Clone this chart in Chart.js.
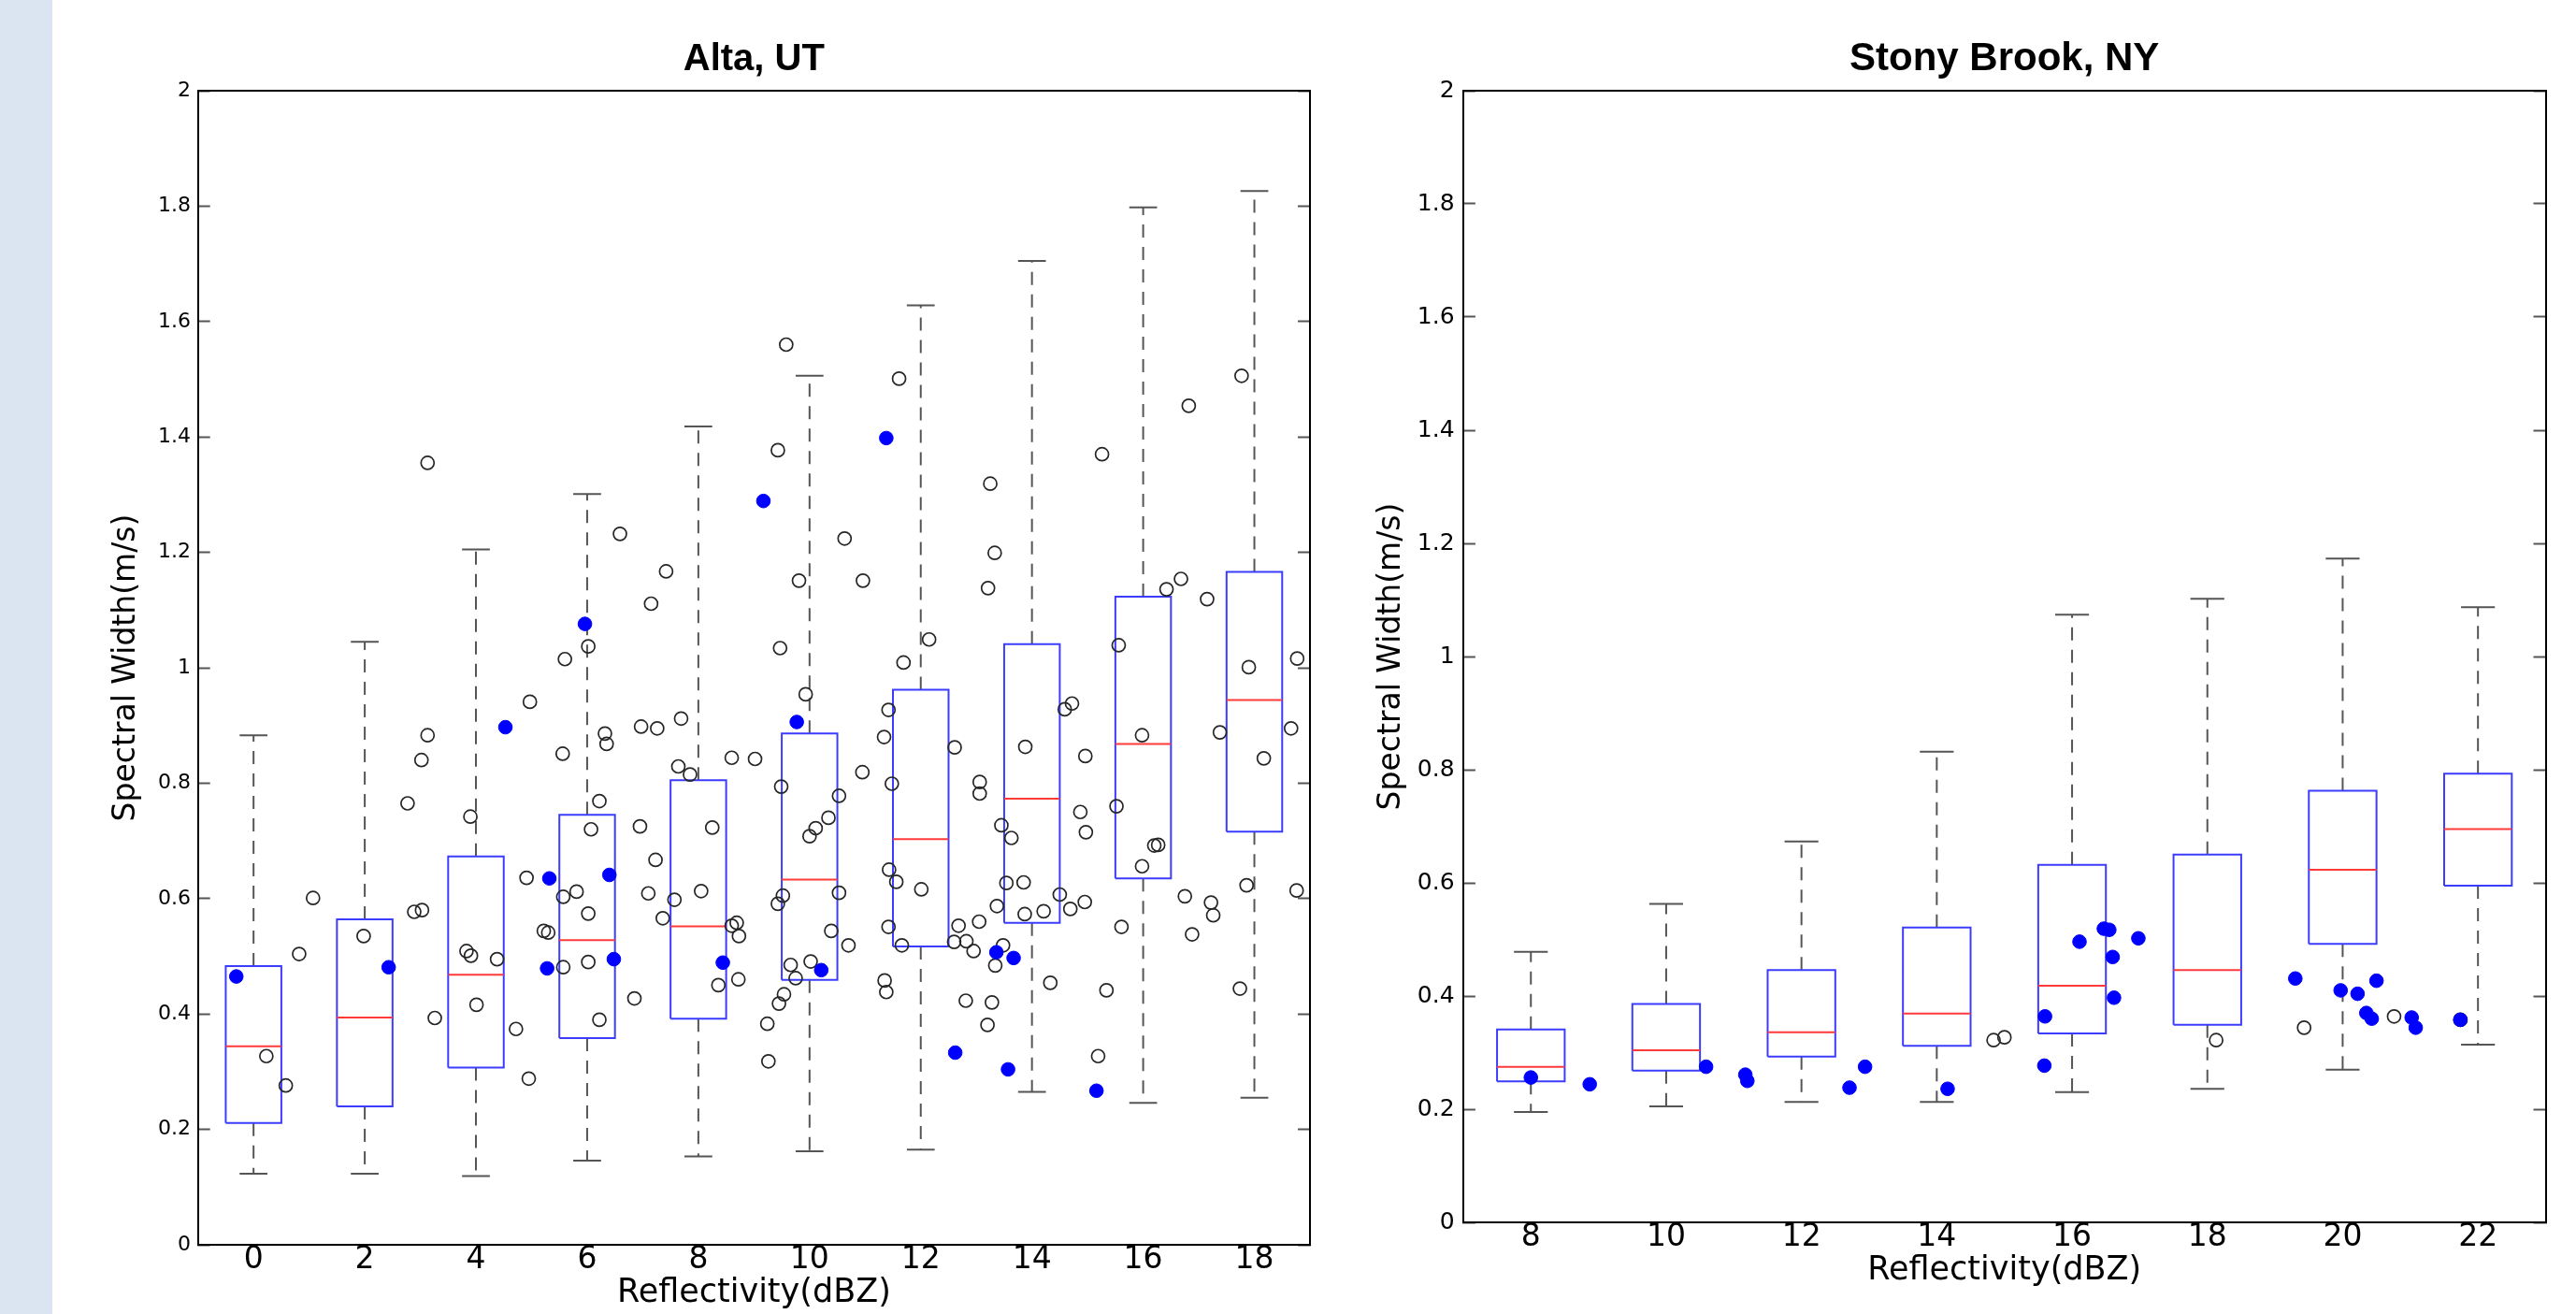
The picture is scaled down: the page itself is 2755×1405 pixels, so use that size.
<!DOCTYPE html>
<html><head><meta charset="utf-8">
<script src="https://cdn.jsdelivr.net/npm/chart.js@4/dist/chart.umd.min.js"></script>
<style>
html,body{margin:0;padding:0;background:#fff;width:2755px;height:1405px;overflow:hidden;position:relative}
#band{position:absolute;left:0;top:0;width:56px;height:1405px;background:#dbe5f1}
#alta{position:absolute;left:56px;top:0}
#stony{position:absolute;left:1450px;top:0}
</style></head><body>
<div id="band"></div>
<canvas id="alta" width="1394" height="1405"></canvas>
<canvas id="stony" width="1305" height="1405"></canvas>
<script>
// ---------- shared ----------
const yTicks = [0,0.2,0.4,0.6,0.8,1,1.2,1.4,1.6,1.8,2];
const yTickLabels = ['0','0.2','0.4','0.6','0.8','1','1.2','1.4','1.6','1.8','2'];

// ---------- Alta, UT ----------
const altaLevels = [0,2,4,6,8,10,12,14,16,18];
const altaTickLabels = ['0','2','4','6','8','10','12','14','16','18'];
const altaLow    = [0.123,0.123,0.119,0.146,0.153,0.162,0.165,0.265,0.246,0.255];
const altaQ1     = [0.211,0.240,0.307,0.358,0.392,0.459,0.517,0.558,0.635,0.716];
const altaMedian = [0.344,0.394,0.468,0.528,0.552,0.633,0.703,0.773,0.868,0.944];
const altaQ3     = [0.483,0.564,0.673,0.745,0.805,0.886,0.962,1.041,1.123,1.166];
const altaHigh   = [0.883,1.045,1.205,1.301,1.418,1.506,1.628,1.705,1.798,1.826];
const altaOpenX = [3.13,6.59,7.42,9.58,11.61,9.43,13.25,15.26,16.82,17.77,10.63,13.33,9.81,10.96,16.68,13.21,16.42,17.15,7.15,6.02,
 5.60,4.97,3.13,3.02,2.77,3.90,6.32,6.35,5.56,6.97,7.26,7.69,8.60,9.02,7.64,7.85,6.22,6.07,6.95,8.25,
 7.23,4.91,5.81,5.57,7.10,8.05,7.57,1.07,2.89,3.03,6.02,7.36,5.22,5.30,1.98,8.60,8.69,8.73,3.83,3.91,
 0.82,4.38,4.01,3.26,4.72,4.95,0.23,0.58,5.57,6.02,6.85,6.22,8.36,8.72,9.47,12.15,11.69,9.93,11.42,11.34,
 12.61,10.95,9.49,11.48,10.53,10.34,10.11,10.00,13.06,13.06,13.88,14.59,14.72,14.96,15.56,15.98,17.38,17.90,18.77,18.66,
 18.17,14.87,14.97,15.52,13.45,13.63,16.20,16.27,15.98,17.86,18.76,9.52,9.43,10.53,10.39,10.70,11.43,11.56,12.01,11.42,
 11.66,12.68,13.05,12.60,12.82,12.95,13.37,13.54,13.85,13.87,14.21,14.50,14.69,14.95,13.48,13.34,16.75,17.22,17.26,15.61,
 16.88,9.66,10.02,9.75,9.54,9.45,9.24,9.26,11.35,11.38,12.81,13.28,13.20,14.33,15.34,15.19,17.74];
const altaOpenY = [1.355,1.232,1.167,1.560,1.501,1.377,1.319,1.370,1.454,1.506,1.224,1.199,1.151,1.151,1.154,1.138,1.136,1.119,1.111,1.037,
 1.015,0.941,0.883,0.840,0.765,0.742,0.886,0.868,0.851,0.898,0.895,0.912,0.844,0.842,0.829,0.815,0.769,0.720,0.725,0.723,
 0.667,0.636,0.612,0.603,0.609,0.613,0.598,0.601,0.577,0.580,0.574,0.566,0.544,0.541,0.535,0.553,0.558,0.535,0.509,0.501,
 0.504,0.495,0.416,0.393,0.374,0.288,0.327,0.276,0.481,0.490,0.427,0.390,0.450,0.460,1.034,1.049,1.009,0.954,0.927,0.880,
 0.862,0.819,0.794,0.799,0.778,0.740,0.722,0.708,0.802,0.782,0.863,0.928,0.938,0.847,1.039,0.883,0.888,1.001,1.016,0.895,
 0.843,0.750,0.715,0.760,0.727,0.705,0.692,0.693,0.656,0.623,0.614,0.605,0.591,0.610,0.544,0.519,0.650,0.629,0.616,0.551,
 0.519,0.553,0.560,0.525,0.526,0.509,0.587,0.627,0.628,0.573,0.578,0.607,0.582,0.594,0.519,0.484,0.604,0.593,0.571,0.551,
 0.538,0.485,0.491,0.462,0.434,0.418,0.383,0.318,0.458,0.438,0.423,0.420,0.381,0.454,0.441,0.327,0.444];
const altaBlueX = [9.17,11.38,5.96,4.53,5.32,6.40,-0.31,2.43,5.28,6.48,8.44,9.77,10.21,13.36,13.67,12.62,13.57,15.16];
const altaBlueY = [1.289,1.398,1.076,0.897,0.635,0.641,0.465,0.481,0.479,0.495,0.489,0.906,0.476,0.507,0.497,0.333,0.304,0.267];

// ---------- Stony Brook, NY ----------
const stonyLevels = [8,10,12,14,16,18,20,22];
const stonyTickLabels = ['8','10','12','14','16','18','20','22'];
const stonyLow    = [0.195,0.205,0.213,0.213,0.230,0.236,0.270,0.314];
const stonyQ1     = [0.249,0.268,0.293,0.312,0.334,0.349,0.492,0.595];
const stonyMedian = [0.275,0.304,0.336,0.369,0.418,0.446,0.623,0.695];
const stonyQ3     = [0.341,0.386,0.446,0.521,0.632,0.650,0.763,0.793];
const stonyHigh   = [0.478,0.563,0.673,0.832,1.074,1.102,1.173,1.087];
const stonyOpenX = [14.84,15.00,18.13,19.43,20.76,21.74];
const stonyOpenY = [0.322,0.327,0.322,0.344,0.364,0.358];
const stonyBlueX = [8.00,8.87,10.59,11.17,11.20,12.71,12.94,14.16,15.60,15.59,16.11,16.47,16.55,16.60,16.62,16.98,19.30,19.97,20.22,20.50,20.35,20.43,21.02,21.08,21.74];
const stonyBlueY = [0.256,0.244,0.275,0.261,0.250,0.238,0.275,0.236,0.364,0.277,0.496,0.519,0.517,0.469,0.397,0.502,0.431,0.410,0.404,0.427,0.370,0.360,0.362,0.344,0.358];

Chart.defaults.color = '#000';
Chart.defaults.font.family = 'DejaVu Sans';

function zip(xs, ys) { return xs.map((x, i) => ({x: x, y: ys[i]})); }

function buildBoxes(levels, lo, q1, med, q3, hi, half) {
  const rect = [], medLine = [], whisk = [], caps = [];
  levels.forEach((x, i) => {
    rect.push({x: x - half, y: q1[i]}, {x: x + half, y: q1[i]}, {x: x + half, y: q3[i]},
              {x: x - half, y: q3[i]}, {x: x - half, y: q1[i]}, {x: x, y: null});
    medLine.push({x: x - half, y: med[i]}, {x: x + half, y: med[i]}, {x: x, y: null});
    whisk.push({x: x, y: q3[i]}, {x: x, y: hi[i]}, {x: x, y: null},
               {x: x, y: q1[i]}, {x: x, y: lo[i]}, {x: x, y: null});
    caps.push({x: x - half / 2, y: hi[i]}, {x: x + half / 2, y: hi[i]}, {x: x, y: null},
              {x: x - half / 2, y: lo[i]}, {x: x + half / 2, y: lo[i]}, {x: x, y: null});
  });
  return {rect, medLine, whisk, caps};
}

function makeChart(id, d, g) {
  const b = buildBoxes(d.levels, d.lo, d.q1, d.med, d.q3, d.hi, 0.5);
  const lineBase = {type: 'line', pointRadius: 0, pointHoverRadius: 0, spanGaps: false, tension: 0, fill: false, borderCapStyle: 'butt', borderJoinStyle: 'miter'};
  const yTickFn = s => { s.ticks = yTicks.map(v => ({value: v})); };
  const xTickFn = s => { s.ticks = d.levels.map(v => ({value: v})); };
  return new Chart(document.getElementById(id), {
    type: 'scatter',
    data: {datasets: [
      {type: 'scatter', data: zip(d.blueX, d.blueY), pointStyle: 'circle', pointRadius: 7.3, pointHoverRadius: 7.3,
       backgroundColor: '#0000ff', borderColor: '#0000ff', borderWidth: 1, order: 1},
      {type: 'scatter', data: zip(d.openX, d.openY), pointStyle: 'circle', pointRadius: 7, pointHoverRadius: 7,
       backgroundColor: 'rgba(0,0,0,0)', borderColor: '#262626', borderWidth: 1.7, order: 2},
      Object.assign({}, lineBase, {data: b.medLine, borderColor: '#ff3a3a', borderWidth: 2, order: 3}),
      Object.assign({}, lineBase, {data: b.rect, borderColor: '#3c3cff', borderWidth: 2, order: 4}),
      Object.assign({}, lineBase, {data: b.whisk, borderColor: '#555555', borderWidth: 2, borderDash: [14, 10], order: 5}),
      Object.assign({}, lineBase, {data: b.caps, borderColor: '#555555', borderWidth: 2, order: 5})
    ]},
    options: {
      responsive: false, animation: false, devicePixelRatio: 1, events: [],
      layout: {padding: {left: 0, right: g.padRight, top: 0, bottom: 0}},
      plugins: {
        legend: {display: false}, tooltip: {enabled: false},
        title: {display: true, text: d.title, fullSize: false, color: '#000',
                font: {family: 'Liberation Sans', size: g.titleSize, weight: 'bold', lineHeight: 1.2},
                padding: {top: g.titlePadTop, bottom: g.titlePadBottom}}
      },
      scales: {
        x: {type: 'linear', position: 'bottom', min: g.xMin, max: g.xMax,
            afterBuildTicks: xTickFn, afterFit: s => { s.height = g.xHeight; },
            grid: {display: false, drawTicks: false},
            border: {display: true, color: '#000', width: 2},
            ticks: {font: {family: 'DejaVu Sans', size: g.xTickSize, lineHeight: 1}, color: '#000',
                    padding: g.xTickPad, maxRotation: 0, autoSkip: false,
                    callback: (v, i) => d.tickLabels[i]},
            title: {display: true, text: 'Reflectivity(dBZ)', color: '#000',
                    font: {family: 'DejaVu Sans', size: g.xTitleSize, lineHeight: 1.2},
                    padding: {top: 0, bottom: g.xTitlePad}}},
        x2: {type: 'linear', position: 'top', min: g.xMin, max: g.xMax,
             afterFit: s => { s.height = 0; },
             grid: {display: false, drawTicks: false},
             border: {display: true, color: '#000', width: 2},
             ticks: {display: false}},
        y: {type: 'linear', position: 'left', min: 0, max: 2,
            afterBuildTicks: yTickFn, afterFit: s => { s.width = g.yWidth; },
            grid: {display: true, drawOnChartArea: false, drawTicks: true, tickLength: -13, tickColor: '#555', tickWidth: 2},
            border: {display: true, color: '#000', width: 2},
            ticks: {font: {family: 'DejaVu Sans', size: g.yTickSize}, color: '#000', padding: g.yTickPad,
                    autoSkip: false, callback: (v, i) => yTickLabels[i]},
            title: {display: true, text: 'Spectral Width(m/s)', color: '#000',
                    font: {family: 'DejaVu Sans', size: 33, lineHeight: 1.2},
                    padding: {top: g.yTitlePad, bottom: 0}}},
        y2: {type: 'linear', position: 'right', min: 0, max: 2,
             afterBuildTicks: yTickFn, afterFit: s => { s.width = 0; },
             grid: {display: true, drawOnChartArea: false, drawTicks: true, tickLength: -13, tickColor: '#555', tickWidth: 2},
             border: {display: true, color: '#000', width: 2},
             ticks: {display: false}}
      }
    }
  });
}

makeChart('alta', {
  title: 'Alta, UT', levels: altaLevels, tickLabels: altaTickLabels,
  lo: altaLow, q1: altaQ1, med: altaMedian, q3: altaQ3, hi: altaHigh,
  openX: altaOpenX, openY: altaOpenY, blueX: altaBlueX, blueY: altaBlueY
}, {xMin: -1, xMax: 19, padRight: 49, yWidth: 155.7, xHeight: 74,
    titleSize: 40, titlePadTop: 39.5, titlePadBottom: 9.5,
    xTickSize: 33, xTickPad: 0, yTickSize: 22, yTickPad: 20.7, yTitlePad: 59.2,
    xTitleSize: 35, xTitlePad: 0.7});

makeChart('stony', {
  title: 'Stony Brook, NY', levels: stonyLevels, tickLabels: stonyTickLabels,
  lo: stonyLow, q1: stonyQ1, med: stonyMedian, q3: stonyQ3, hi: stonyHigh,
  openX: stonyOpenX, openY: stonyOpenY, blueX: stonyBlueX, blueY: stonyBlueY
}, {xMin: 7, xMax: 23, padRight: 32.5, yWidth: 114.9, xHeight: 98,
    titleSize: 42, titlePadTop: 38.5, titlePadBottom: 8.1,
    xTickSize: 33, xTickPad: -0.5, yTickSize: 25, yTickPad: 22.3, yTitlePad: 18.2,
    xTitleSize: 35, xTitlePad: 25.5});
</script></body></html>
